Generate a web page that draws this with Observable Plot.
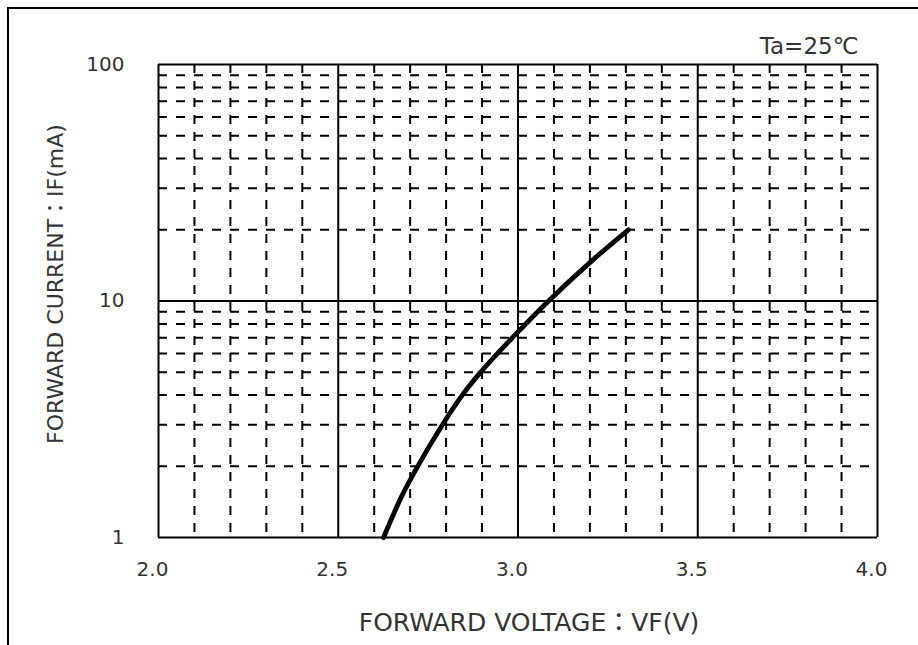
<!DOCTYPE html>
<html>
<head>
<meta charset="utf-8">
<script src="https://cdn.jsdelivr.net/npm/d3@7"></script>
<script src="https://cdn.jsdelivr.net/npm/@observablehq/plot@0.6"></script>
<style>
  html, body { margin: 0; padding: 0; background: #fff; }
  #wrap { position: relative; width: 918px; height: 645px; overflow: hidden; }
  #frame { position: absolute; left: 7px; top: 7px; width: 940px; height: 700px;
           border-left: 2px solid #000; border-top: 2px solid #000; pointer-events: none; }
</style>
</head>
<body>
<div id="wrap"><div id="frame"></div></div>
<script>
// Forward voltage (V) vs forward current (mA), Ta = 25°C
const forwardVoltage = [2.626, 2.677, 2.721, 2.79, 2.845, 2.896, 3.0, 3.085, 3.21, 3.307];
const forwardCurrent = [1, 1.5, 2, 3, 4, 5, 7.4, 10, 15, 20];

const xTicks = [2.0, 2.5, 3.0, 3.5, 4.0];
const xMinor = [2.1, 2.2, 2.3, 2.4, 2.6, 2.7, 2.8, 2.9, 3.1, 3.2, 3.3, 3.4, 3.6, 3.7, 3.8, 3.9];
const yTicks = [1, 10, 100];
const yMinor = [2, 3, 4, 5, 6, 7, 8, 9, 20, 30, 40, 50, 60, 70, 80, 90];

const xLabel = "FORWARD VOLTAGE：VF(V)";
const yLabel = "FORWARD CURRENT：IF(mA)";
const condition = "Ta=25℃";

const curve = forwardVoltage.map((v, i) => ({ vf: v, ifa: forwardCurrent[i] }));

const font = "'DejaVu Sans', 'Noto Sans CJK JP', sans-serif";

const chart = Plot.plot({
  width: 918,
  height: 645,
  marginLeft: 158,
  marginRight: 41,
  marginTop: 64,
  marginBottom: 108,
  style: { fontFamily: font, background: "transparent", color: "#333" },
  x: { type: "linear", domain: [2, 4] },
  y: { type: "log", domain: [1, 100] },
  marks: [
    Plot.ruleX(xMinor, { stroke: "#000", strokeWidth: 2, strokeDasharray: "9,8" }),
    Plot.ruleY(yMinor, { stroke: "#000", strokeWidth: 2, strokeDasharray: "9,9" }),
    Plot.ruleX(xTicks, { stroke: "#000", strokeWidth: 2 }),
    Plot.ruleY(yTicks, { stroke: "#000", strokeWidth: 2 }),
    Plot.axisX(xTicks, { tickSize: 0, tickPadding: 24, fontSize: 20, tickFormat: d => d.toFixed(1), label: null, dx: -6 }),
    Plot.axisY(yTicks, { tickSize: 0, tickPadding: 34, fontSize: 20, tickFormat: d => String(d), label: null }),
    Plot.line(curve, { x: "vf", y: "ifa", stroke: "#000", strokeWidth: 4.8, curve: "monotone-x" }),
    Plot.text([xLabel], { frameAnchor: "bottom", textAnchor: "middle", lineAnchor: "middle", dy: 85, dx: 11, fontSize: 25, fill: "#333", text: d => d }),
    Plot.text([yLabel], { frameAnchor: "left", textAnchor: "middle", lineAnchor: "middle", rotate: -90, dx: -103, dy: -17, fontSize: 22, fill: "#333", text: d => d }),
    Plot.text([condition], { frameAnchor: "top-right", textAnchor: "end", lineAnchor: "bottom", dx: -19, dy: -11, fontSize: 23, fill: "#333", text: d => d })
  ]
});
document.getElementById("wrap").prepend(chart);
chart.style.position = "absolute";
chart.style.left = "0";
chart.style.top = "0";
</script>
</body>
</html>
